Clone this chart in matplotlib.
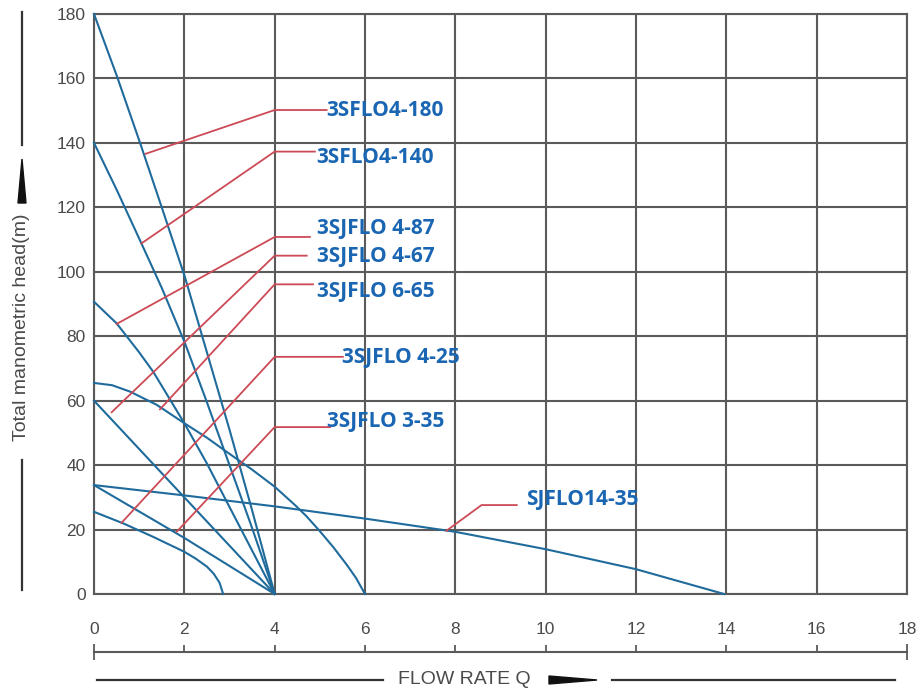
import matplotlib.pyplot as plt
from matplotlib.lines import Line2D
from matplotlib.patches import Polygon

# pump curves: flow rate Q vs total manometric head (m)
q_180 = [0, 0.5, 1.02, 1.5, 2.01, 2.5, 3, 3.5, 4]
h_180 = [180, 161, 140, 120, 98.5, 75, 51, 26, 0]
q_140 = [0, 0.5, 1.05, 1.5, 2.01, 2.5, 3, 3.5, 4]
h_140 = [140, 125.5, 108.8, 95, 78, 59.5, 40, 20.5, 0]
q_91 = [0, 0.5, 1, 1.31, 2, 2.5, 3, 3.5, 4]
h_91 = [90.7, 84, 75, 69, 53, 40.5, 27, 13.5, 0]
q_65 = [0, 0.4, 0.8, 1.39, 2, 2.5, 3, 3.5, 4, 4.45, 4.7, 5, 5.3, 5.6, 5.8, 6]
h_65 = [65.5, 64.8, 62.8, 58.7, 53, 48.5, 43.5, 38.6, 33.3, 27.6, 24.2, 19.5,
        14.5, 9, 5, 0]
q_60 = [0, 2, 4]
h_60 = [60, 30, 0]
q_34 = [0, 2, 4]
h_34 = [33.8, 17.4, 0]
q_25 = [0, 0.65, 1.3, 2, 2.25, 2.5, 2.65, 2.78, 2.86]
h_25 = [25.5, 21.9, 17.8, 13.1, 11, 8.5, 6.3, 3.5, 0]
q_1435 = [0, 2, 4, 6, 8, 10, 12, 13.95]
h_1435 = [33.8, 30.6, 27.2, 23.4, 19.3, 13.9, 7.7, 0]

curves = [(q_180, h_180), (q_140, h_140), (q_91, h_91), (q_65, h_65),
          (q_60, h_60), (q_34, h_34), (q_25, h_25), (q_1435, h_1435)]

# model labels and their leader lines
labels = ['3SFLO4-180', '3SFLO4-140', '3SJFLO 4-87', '3SJFLO 4-67',
          '3SJFLO 6-65', '3SJFLO 4-25', '3SJFLO 3-35', 'SJFLO14-35']
label_x = [5.15, 4.93, 4.93, 4.93, 4.93, 5.48, 5.15, 9.56]
label_y = [150.0, 135.6, 113.3, 104.6, 93.8, 73.4, 53.6, 29.2]
lead_start_q = [1.14, 1.05, 0.5, 0.39, 1.46, 0.61, 1.83, 7.8]
lead_start_h = [136.6, 108.8, 83.8, 56.4, 57.3, 22.1, 19.3, 19.6]
lead_knee_q = [4, 4, 4, 4, 4, 4, 4, 8.58]
lead_knee_h = [150.2, 137.3, 110.8, 105.0, 96.1, 73.6, 51.8, 27.6]
lead_end_q = [5.15, 4.89, 4.78, 4.71, 4.85, 5.51, 5.23, 9.36]

x_ticks = list(range(0, 19, 2))
y_ticks = list(range(0, 181, 20))

W, H = 924, 693
GRID = '#5a5a5a'
BLUE = '#1f6b9c'
RED = '#cc4a55'
TXT = '#4a4a4a'


def px(x, y):
    return x / W, 1 - y / H


fig = plt.figure(figsize=(W / 100, H / 100), dpi=100)
fig.patch.set_facecolor('white')
x0, y0 = px(94, 594)
x1, y1 = px(907, 14)
ax = fig.add_axes([x0, y0, x1 - x0, y1 - y0])

ax.set_xlim(0, 18)
ax.set_ylim(0, 180)
ax.set_xticks(x_ticks)
ax.set_yticks(y_ticks)
ax.grid(True, color=GRID, lw=1.5)
for s in ax.spines.values():
    s.set_color(GRID)
    s.set_linewidth(1.5)
ax.tick_params(length=0, labelsize=12.5, labelcolor=TXT)
ax.tick_params(axis='x', pad=20)
ax.tick_params(axis='y', pad=6)
for t in ax.get_xticklabels() + ax.get_yticklabels():
    t.set_fontfamily('Liberation Sans')

for q, h in curves:
    ax.plot(q, h, color=BLUE, lw=1.5, zorder=3, clip_on=False,
            solid_joinstyle='round')

for i, lab in enumerate(labels):
    ax.plot([lead_start_q[i], lead_knee_q[i], lead_end_q[i]],
            [lead_start_h[i], lead_knee_h[i], lead_knee_h[i]],
            color=RED, lw=1.3, zorder=4)
    ax.text(label_x[i], label_y[i], lab, color='#1a66b3', fontsize=15,
            fontweight='bold', family='Open Sans', ha='left', va='center',
            zorder=5)

# lower scale bar with ticks
sx0, sy = px(94, 652)
sx1, _ = px(907, 652)
ax2 = fig.add_axes([sx0, sy, sx1 - sx0, 0.0001])
ax2.set_xlim(0, 18)
for k in ['top', 'left', 'right']:
    ax2.spines[k].set_visible(False)
ax2.spines['bottom'].set_color(GRID)
ax2.spines['bottom'].set_linewidth(1.5)
ax2.set_yticks([])
ax2.set_xticks(x_ticks[1:-1])
ax2.set_xticks([0, 18], minor=True)
ax2.tick_params(axis='x', which='major', direction='in', length=5, width=1.3,
                color=GRID, labelbottom=False)
ax2.tick_params(axis='x', which='minor', direction='inout', length=12, width=1.3,
                color=GRID, labelbottom=False)
ax2.patch.set_visible(False)

# FLOW RATE Q with line and wedge arrow
fig.add_artist(Line2D(*zip(px(97, 680), px(383, 680)), transform=fig.transFigure,
                      color='#333333', lw=1.6))
fig.add_artist(Line2D(*zip(px(612, 680), px(895, 680)), transform=fig.transFigure,
                      color='#333333', lw=1.6))
fig.text(*px(464, 680), 'FLOW RATE Q', ha='center', va='center', fontsize=14,
         color=TXT, family='Liberation Sans')
fig.add_artist(Polygon([px(549, 676), px(549, 684), px(597, 680)],
                       closed=True, transform=fig.transFigure, color='#111111'))

# y axis label with line and wedge arrow
fig.add_artist(Line2D(*zip(px(22, 12), px(22, 145)), transform=fig.transFigure,
                      color='#333333', lw=1.6))
fig.add_artist(Line2D(*zip(px(22, 460), px(22, 590)), transform=fig.transFigure,
                      color='#333333', lw=1.6))
fig.text(*px(22, 327), 'Total manometric head(m)', ha='center', va='center',
         rotation=90, fontsize=14, color=TXT, family='Liberation Sans')
fig.add_artist(Polygon([px(18, 203), px(26, 203), px(22, 159)],
                       closed=True, transform=fig.transFigure, color='#111111'))

fig.savefig('out.png', dpi=100)
